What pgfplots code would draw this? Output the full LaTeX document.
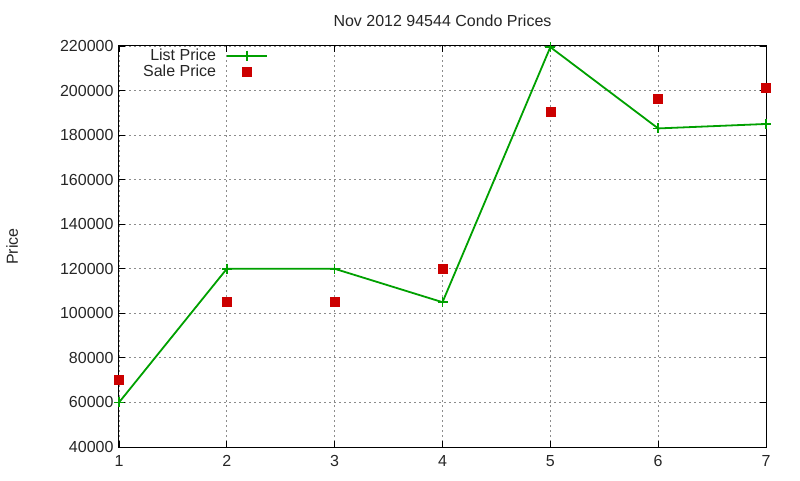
\documentclass[border=0pt]{standalone}
\usepackage{fontspec}
\setmainfont{Liberation Sans}
\usepackage{pgfplots}
\pgfplotsset{compat=1.18}
\definecolor{lgreen}{RGB}{0,160,0}
\definecolor{sred}{RGB}{204,0,0}
\begin{document}
\begin{tikzpicture}[x=1pt,y=1pt]
\path[use as bounding box] (0,0) rectangle (800,480);
\begin{axis}[
  at={(119pt,33pt)}, anchor=south west,
  scale only axis, width=647pt, height=401pt,
  xmin=1, xmax=7, ymin=40000, ymax=220000,
  xtick={1,2,3,4,5,6,7},
  ytick={40000,60000,...,220000},
  scaled y ticks=false,
  /pgf/number format/assume math mode=true,
  yticklabel style={/pgf/number format/fixed,/pgf/number format/1000 sep={}, xshift=-2pt},
  xticklabel style={yshift=-5pt},
  tick label style={font=\fontsize{16}{19}\selectfont},
  ticklabel style={text=black!85},
  tick align=inside, major tick length=6pt,
  tick style={black, line width=0.8pt},
  axis line style={black, line width=1pt},
  grid=major,
  major grid style={dash pattern=on 2pt off 3pt, color=black!45, line width=0.8pt},
  title={Nov 2012 94544 Condo Prices},
  title style={font=\fontsize{16}{19}\selectfont, text=black!85, at={(0.5,1)}, anchor=south, yshift=10pt},
  ylabel={Price},
  ylabel style={font=\fontsize{16}{19}\selectfont, text=black!85, at={(axis description cs:-0.165,0.5)}, anchor=center},
  legend style={draw=none, fill=none, at={(0.232,1.0)}, anchor=north east,
    font=\fontsize{16}{18}\selectfont, text=black!85, row sep=-1pt, inner sep=1pt,
    column sep=8pt},
  legend cell align=right,
  legend plot pos=right,
  clip=false,
]
\addplot[color=lgreen, line width=1.8pt, mark=+, mark size=5pt, mark options={line width=1.5pt},
  legend image code/.code={\draw[mark repeat=2,mark phase=2] plot coordinates {(0pt,0pt)(20pt,0pt)(40pt,0pt)};}]
 coordinates {(1,60000)(2,120000)(3,120000)(4,105000)(5,219500)(6,183000)(7,185000)};
\addlegendentry{List Price}
\addplot[only marks, mark=square*, color=sred, mark size=4.5pt,
  legend image code/.code={\draw plot coordinates {(20pt,0pt)};}]
 coordinates {(1,70000)(2,105000)(3,105000)(4,120000)(5,190500)(6,196300)(7,201200)};
\addlegendentry{Sale Price}
\end{axis}
\end{tikzpicture}
\end{document}
